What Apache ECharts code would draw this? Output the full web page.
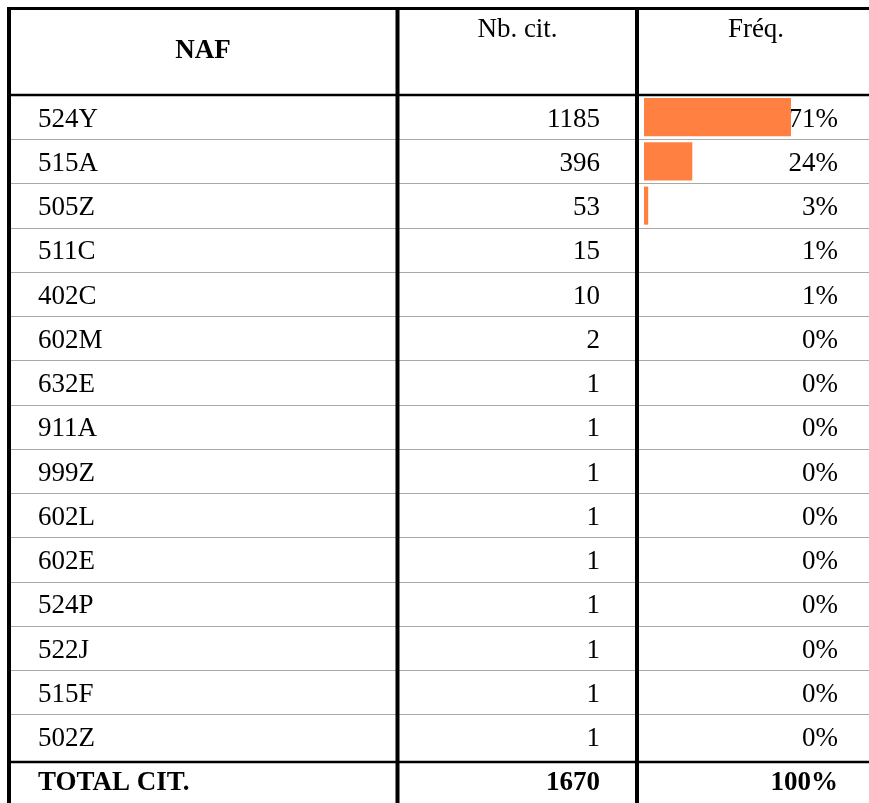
<!DOCTYPE html>
<html>
<head>
<meta charset="utf-8">
<script src="https://cdn.jsdelivr.net/npm/echarts@6/dist/echarts.min.js"></script>
<style>
  html, body { margin: 0; padding: 0; background: #fff; }
  #main { width: 869px; height: 803px; }
</style>
</head>
<body>
<div id="main"></div>
<script>
// données du tableau
const codes = ['524Y', '515A', '505Z', '511C', '402C', '602M', '632E', '911A', '999Z', '602L', '602E', '524P', '522J', '515F', '502Z'];
const counts = [1185, 396, 53, 15, 10, 2, 1, 1, 1, 1, 1, 1, 1, 1, 1];
const freq = [71, 24, 3, 1, 1, 0, 0, 0, 0, 0, 0, 0, 0, 0, 0];
const totalLabel = 'TOTAL CIT.';
const totalCount = 1670;
const totalFreq = 100;
const headers = ['NAF', 'Nb. cit.', 'Fréq.'];

const FONT = 'Liberation Serif';
const FS = 27;
const rowH = 44.467;
const tableTop = 95;
const nRows = codes.length + 1;

const colCodes = codes.concat([totalLabel]);
const colCounts = counts.concat([totalCount]).map(String);
const colFreq = freq.concat([totalFreq]).map(v => v + '%');

// la dernière ligne (total) est en gras
function boldLast(v, i) {
    return i === nRows - 1 ? '{b|' + v + '}' : v;
}
const rich = { b: { fontWeight: 'bold', fontSize: FS, fontFamily: FONT, color: '#000' } };

function labelAxis(data, align, margin, split) {
    return {
        type: 'category',
        gridIndex: 0,
        position: 'left',
        inverse: true,
        data: data,
        axisLine: { show: false },
        axisTick: { show: false },
        splitLine: {
            show: split,
            // pas de trait gris sous les traits noirs (en-tête / total)
            interval: (i) => i !== 0 && i !== nRows - 1,
            lineStyle: { color: '#aaaaaa', width: 1 }
        },
        axisLabel: {
            interval: 0,
            align: align,
            margin: margin,
            padding: [5, 0, 0, 0],
            color: '#000',
            fontFamily: FONT,
            fontSize: FS,
            formatter: boldLast,
            rich: rich
        }
    };
}

const line = (x1, y1, x2, y2, w) => ({
    type: 'line', z: 100,
    shape: { x1, y1, x2, y2 },
    style: { stroke: '#000', lineWidth: w }
});
const headText = (x, y, text, bold) => ({
    type: 'text', z: 100, x, y,
    style: {
        text, fill: '#000', font: (bold ? 'bold ' : '') + FS + 'px "' + FONT + '"',
        align: 'center', verticalAlign: 'middle'
    }
});

const myChart = echarts.init(document.getElementById('main'));
const option = {
    backgroundColor: '#fff',
    animation: false,
    grid: [
        { left: 9, right: 0, top: tableTop, height: rowH * nRows },
        { left: 644, width: 207.9, top: tableTop, height: rowH * nRows }
    ],
    xAxis: [
        { type: 'value', gridIndex: 0, min: 0, max: 1, show: false },
        { type: 'value', gridIndex: 1, min: 1, max: 100, show: false }
    ],
    yAxis: [
        labelAxis(colCodes, 'left', -29, true),
        labelAxis(colCounts, 'right', -591, false),
        labelAxis(colFreq, 'right', -829, false),
        { type: 'category', gridIndex: 1, inverse: true, data: colCodes, show: false }
    ],
    series: [
        {
            type: 'bar',
            xAxisIndex: 1,
            yAxisIndex: 3,
            data: freq,
            clip: true,
            barWidth: '86%',
            itemStyle: { color: '#ff8040' }
        }
    ],
    graphic: [
        line(7, 8.5, 869, 8.5, 3),
        line(9, 7, 9, 803, 4),
        line(397.5, 7, 397.5, 803, 4),
        line(637, 7, 637, 803, 4),
        line(9, 95, 869, 95, 2.5),
        line(9, 762, 869, 762, 2.5),
        headText(203, 51, headers[0], true),
        headText(517.5, 30, headers[1], false),
        headText(756, 30, headers[2], false)
    ]
};
myChart.setOption(option);
</script>
</body>
</html>
